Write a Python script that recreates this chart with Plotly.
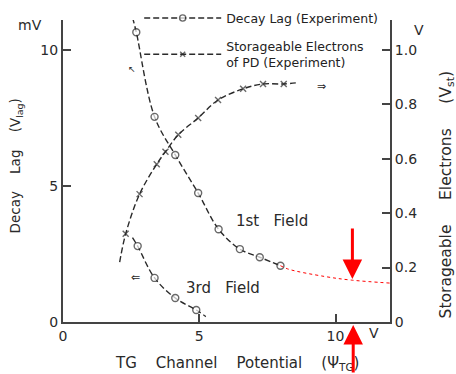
import plotly.graph_objects as go

# ---- data ----
# Decay lag, 1st field (mV); first entry is the upper end of the drawn curve
lag1_x = [2.55, 2.69, 3.36, 4.12, 4.96, 5.71, 6.49, 7.22, 7.98]
lag1_y = [11.2, 10.65, 7.54, 6.14, 4.74, 3.41, 2.68, 2.38, 2.07]
lag1_meas = [False, True, True, True, True, True, True, True, True]

# Red dotted extrapolation of the 1st-field curve (mV)
ext_x = [7.98, 8.28, 9.62, 10.58, 12.0]
ext_y = [2.07, 1.94, 1.67, 1.54, 1.43]

# Decay lag, 3rd field (mV)
lag3_x = [2.55, 2.74, 3.36, 4.12, 4.89, 5.24]
lag3_y = [3.1, 2.79, 1.62, 0.88, 0.44, 0.2]
lag3_meas = [False, True, True, True, True, False]

# Storageable electrons of PD (V, right axis)
st_x = [2.08, 2.30, 2.81, 3.44, 3.76, 4.23, 4.96, 5.69, 6.61, 7.34, 8.10, 8.65]
st_v = [0.22, 0.324, 0.47, 0.58, 0.626, 0.688, 0.75, 0.816, 0.857, 0.875, 0.875, 0.88]
st_meas = [False, True, True, True, True, True, True, True, True, True, True, False]

left_ticks = [0, 5, 10]
right_ticks = [0, 0.2, 0.4, 0.6, 0.8, 1.0]
right_ticktext = ["0", "0.2", "0.4", "0.6", "0.8", "1.0"]
x_ticks = [0, 5, 10]

INK = "#2a2a2a"
FONT = "DejaVu Sans"

def sizes(flags, s):
    return [s if f else 0 for f in flags]

fig = go.Figure()

fig.add_trace(go.Scatter(
    x=lag1_x, y=lag1_y, mode="lines+markers", line_shape="spline",
    name="Decay Lag (Experiment)", legend="legend",
    line=dict(color=INK, width=1.4, dash="6px,3px"),
    marker=dict(symbol="circle", size=sizes(lag1_meas, 7), color="white",
                line=dict(color=INK, width=1.4)),
))
fig.add_trace(go.Scatter(
    x=lag3_x, y=lag3_y, mode="lines+markers", line_shape="spline",
    showlegend=False,
    line=dict(color=INK, width=1.4, dash="6px,3px"),
    marker=dict(symbol="circle", size=sizes(lag3_meas, 7), color="white",
                line=dict(color=INK, width=1.4)),
))
fig.add_trace(go.Scatter(
    x=ext_x, y=ext_y, mode="lines", line_shape="spline", showlegend=False,
    line=dict(color="red", width=1, dash="dot"),
))
fig.add_trace(go.Scatter(
    x=st_x, y=st_v, yaxis="y2", mode="lines+markers", line_shape="spline",
    name="Storageable Electrons<br>of PD (Experiment)", legend="legend2",
    line=dict(color=INK, width=1.4, dash="6px,3px"),
    marker=dict(symbol="x-thin-open", size=sizes(st_meas, 6), color=INK,
                line=dict(color=INK, width=1.4)),
))

tickfont = dict(family=FONT, size=14, color=INK)
legfont = dict(family=FONT, size=12.5, color="#222")
fig.update_layout(
    width=456, height=374,
    margin=dict(l=63, r=66, t=20, b=52, autoexpand=False),
    paper_bgcolor="white", plot_bgcolor="white",
    font=dict(family=FONT, color=INK),
    xaxis=dict(range=[0, 12], showline=True, linecolor="#444", linewidth=2,
               ticks="inside", ticklen=8, tickwidth=1.5, tickcolor="#444",
               tickvals=x_ticks, showgrid=False, zeroline=False, tickfont=tickfont,
               automargin=False),
    yaxis=dict(range=[0, 11.1], showline=True, linecolor="#444", linewidth=2,
               ticks="inside", ticklen=8, tickwidth=1.5, tickcolor="#444",
               tickvals=left_ticks, showgrid=False, zeroline=False, tickfont=tickfont,
               automargin=False),
    yaxis2=dict(range=[0, 1.11], overlaying="y", side="right", showline=True,
                linecolor="#444", linewidth=2, ticks="inside", ticklen=8,
                tickwidth=1.5, tickcolor="#444", tickvals=right_ticks,
                ticktext=right_ticktext, showgrid=False, zeroline=False,
                tickfont=tickfont, automargin=False),
    legend=dict(x=0.233, xanchor="left", y=1.055, yanchor="top",
                bgcolor="rgba(0,0,0,0)", font=legfont, itemwidth=77),
    legend2=dict(x=0.233, xanchor="left", y=0.962, yanchor="top",
                 bgcolor="rgba(0,0,0,0)", font=legfont, itemwidth=77),
    showlegend=True,
)

C = dict(xanchor="center", yanchor="middle", showarrow=False)
ann = []
# axis titles
ann.append(dict(text="Decay    Lag    (V<sub>lag</sub>)", xref="paper", yref="paper",
                x=-0.145, y=0.517, textangle=-90,
                font=dict(family=FONT, size=13.5, color=INK), **C))
ann.append(dict(text="Storageable     Electrons     (V<sub>st</sub>)", xref="paper", yref="paper",
                x=1.175, y=0.42, textangle=-90,
                font=dict(family=FONT, size=15.5, color=INK), **C))
ann.append(dict(text="TG    Channel    Potential    (Ψ<sub>TG</sub>)", xref="paper", yref="paper",
                x=0.532, y=-0.136,
                font=dict(family=FONT, size=15, color=INK), **C))
# units
ann.append(dict(text="mV", xref="paper", yref="paper", x=-0.101, y=0.983,
                font=dict(family=FONT, size=14, color=INK), **C))
ann.append(dict(text="V", xref="paper", yref="paper", x=1.09, y=0.967,
                font=dict(family=FONT, size=14, color=INK), **C))
ann.append(dict(text="V", xref="x", yref="paper", x=11.4, y=-0.037,
                font=dict(family=FONT, size=14, color=INK), **C))
# curve labels
ann.append(dict(text="1st   Field", xref="x", yref="y", x=7.68, y=3.7,
                font=dict(family=FONT, size=15, color=INK), **C))
ann.append(dict(text="3rd   Field", xref="x", yref="y", x=5.86, y=1.25,
                font=dict(family=FONT, size=15, color=INK), **C))
# small direction arrows
ann.append(dict(text="⇐", xref="x", yref="y", x=2.65, y=1.65,
                font=dict(family=FONT, size=11, color=INK), **C))
ann.append(dict(text="⇒", xref="x", yref="y2", x=9.5, y=0.865,
                font=dict(family=FONT, size=11, color=INK), **C))
ann.append(dict(text="↖", xref="x", yref="y", x=2.55, y=9.3,
                font=dict(family=FONT, size=9, color=INK), **C))
# red arrows
ann.append(dict(x=10.62, y=1.58, xref="x", yref="y", ax=0, ay=-52, text="",
                showarrow=True, arrowhead=2, arrowsize=1.3, arrowwidth=3,
                arrowcolor="red"))
ann.append(dict(x=10.65, y=-0.01, xref="x", yref="paper", ax=0, ay=52, text="",
                showarrow=True, arrowhead=2, arrowsize=1.3, arrowwidth=3,
                arrowcolor="red"))
fig.update_layout(annotations=ann)

fig.write_html("out.html",
               config={"displayModeBar": False},
               post_script="document.body.style.margin='0';document.body.style.overflow='hidden';")
